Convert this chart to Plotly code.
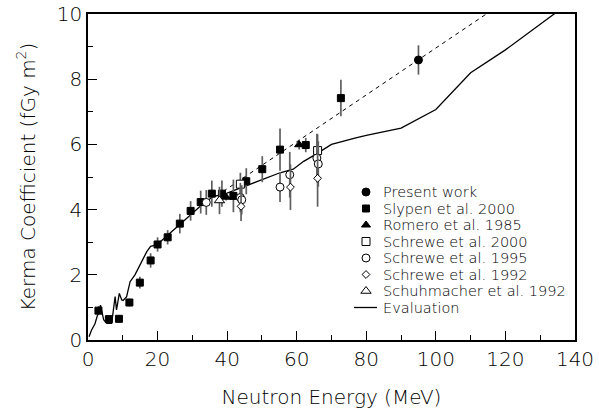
import plotly.graph_objects as go

# ---- data: neutron kerma coefficients (fGy m^2) vs neutron energy (MeV) ----
present_E = [95.0]
present_K = [8.59]
present_err = [0.45]

slypen_E = [3.0, 6.0, 8.9, 11.9, 14.9, 18.0, 20.0, 22.9, 26.4, 29.5, 32.4,
            35.6, 38.5, 41.8, 45.5, 50.1, 55.2, 62.6, 72.7]
slypen_K = [0.90, 0.64, 0.65, 1.15, 1.76, 2.44, 2.93, 3.15, 3.57, 3.96, 4.23,
            4.49, 4.49, 4.42, 4.87, 5.24, 5.84, 5.98, 7.42]
slypen_err = [0.14, 0.12, 0.12, 0.12, 0.18, 0.22, 0.22, 0.22, 0.3, 0.3, 0.35,
              0.4, 0.4, 0.5, 0.4, 0.4, 0.65, 0.22, 0.56]

romero_E = [39.7, 60.7]
romero_K = [4.38, 5.99]
romero_err = [0.1, 0.15]

schrewe2000_E = [43.8, 66.0]
schrewe2000_K = [4.78, 5.81]
schrewe2000_err = [0.35, 0.5]

schrewe1995_E = [34.0, 43.8, 44.2, 55.2, 58.0, 65.8, 66.2]
schrewe1995_K = [4.22, 4.37, 4.30, 4.69, 5.07, 5.58, 5.40]
schrewe1995_err = [0.38, 0.45, 0.45, 0.46, 0.7, 0.75, 0.7]

schrewe1992_E = [44.0, 58.2, 66.0]
schrewe1992_K = [4.10, 4.69, 4.96]
schrewe1992_err = [0.45, 0.7, 0.87]

schuhmacher_E = [37.8]
schuhmacher_K = [4.28]
schuhmacher_err = [0.42]

# linear trend through the high-energy measurements
fit_E = [38.9, 114.5]
fit_K = [4.56, 10.0]

# evaluated kerma coefficient
eval_E = [0.3, 1.0, 2.0, 2.6, 3.2, 3.6, 4.5, 5.4, 6.8, 7.3, 7.8, 8.2, 9.0, 9.7,
          10.1, 11.1, 12.1, 13.5, 14.9, 16.9, 18.0, 19.7, 21.2, 23.6, 26.4,
          29.5, 33.0, 36.0, 39.8, 43.7, 49.9, 55.2, 59.0, 62.0, 65.2, 70.0,
          77.0, 80.0, 90.0, 100.0, 110.0, 120.0, 134.0, 140.0]
eval_K = [0.1, 0.3, 0.5, 0.7, 0.95, 1.07, 0.62, 0.51, 0.51, 1.02, 1.33, 0.92,
          1.43, 1.23, 1.21, 1.33, 1.79, 2.0, 2.3, 2.71, 2.87, 2.92, 3.05, 3.28,
          3.52, 3.82, 4.17, 4.40, 4.5, 4.66, 4.92, 5.13, 5.24, 5.48, 5.68, 6.0,
          6.2, 6.28, 6.5, 7.07, 8.2, 8.9, 10.0, 10.45]

x_ticks = [0, 20, 40, 60, 80, 100, 120, 140]
y_ticks = [0, 2, 4, 6, 8, 10]

FONT = "DejaVu Sans"
WEIGHT = 200
ERR_COLOR = "rgb(95,95,95)"

fig = go.Figure()

fig.add_trace(go.Scatter(x=eval_E, y=eval_K, mode="lines",
                         line=dict(color="black", width=1.3), showlegend=False))
fig.add_trace(go.Scatter(x=fit_E, y=fit_K, mode="lines",
                         line=dict(color="black", width=1, dash="4px,4px"),
                         showlegend=False))

series = [
    ("Present work", present_E, present_K, present_err, "circle", "black", 8),
    ("Slypen et al. 2000", slypen_E, slypen_K, slypen_err, "square", "black", 7),
    ("Romero et al. 1985", romero_E, romero_K, romero_err, "triangle-up", "black", 8),
    ("Schrewe et al. 2000", schrewe2000_E, schrewe2000_K, schrewe2000_err, "square", "white", 8),
    ("Schrewe et al. 1995", schrewe1995_E, schrewe1995_K, schrewe1995_err, "circle", "white", 8),
    ("Schrewe et al. 1992", schrewe1992_E, schrewe1992_K, schrewe1992_err, "diamond", "white", 6),
    ("Schuhmacher et al. 1992", schuhmacher_E, schuhmacher_K, schuhmacher_err, "triangle-up", "white", 9),
]

for name, xs, ys, es, sym, fill, size in series:
    fig.add_trace(go.Scatter(
        x=xs, y=ys, mode="markers", name=name, showlegend=False,
        marker=dict(symbol=sym, color=fill, size=size,
                    line=dict(color="black", width=1)),
        error_y=dict(type="data", array=es, visible=True, width=0,
                     thickness=1.7, color=ERR_COLOR),
    ))

# ---- hand-built key drawn on a pixel-scaled overlay axis ----
key_rows = [192, 208.5, 225, 241.5, 258, 274.5, 291, 307.5]
key_marker_x = 366
key_text_x = 381
key_font = dict(family=FONT, size=14.5, color="black", weight=WEIGHT)
annotations = []
for (name, _, _, _, sym, fill, size), ky in zip(series, key_rows):
    fig.add_trace(go.Scatter(
        x=[key_marker_x], y=[ky], xaxis="x2", yaxis="y2", mode="markers",
        showlegend=False, hoverinfo="skip",
        marker=dict(symbol=sym, color=fill, size=size,
                    line=dict(color="black", width=1))))
    annotations.append(dict(x=key_text_x, y=ky, xref="x2", yref="y2",
                            text=name, showarrow=False, xanchor="left",
                            yanchor="middle", font=key_font))
fig.add_trace(go.Scatter(
    x=[354, 377], y=[key_rows[-1]] * 2, xaxis="x2", yaxis="y2", mode="lines",
    showlegend=False, hoverinfo="skip", line=dict(color="black", width=1.3)))
annotations.append(dict(x=key_text_x, y=key_rows[-1], xref="x2", yref="y2",
                        text="Evaluation", showarrow=False, xanchor="left",
                        yanchor="middle", font=key_font))

axis_common = dict(
    showline=True, linecolor="black", linewidth=1.5, mirror=True,
    ticks="inside", tickcolor="black", tickwidth=1.3, ticklen=9,
    showgrid=False, zeroline=False, automargin=False,
    tickfont=dict(family=FONT, size=20, color="black", weight=WEIGHT),
)
title_font = dict(family=FONT, size=20, color="black", weight=WEIGHT)

fig.update_layout(
    width=599, height=414,
    margin=dict(l=88, r=24, t=14, b=74),
    paper_bgcolor="white", plot_bgcolor="white",
    showlegend=False,
    xaxis=dict(range=[0, 140], tickvals=x_ticks,
               minor=dict(dtick=10, ticks="inside", ticklen=5,
                          tickcolor="black", tickwidth=1.3),
               title=dict(text="Neutron Energy (MeV)", standoff=20,
                          font=title_font),
               **axis_common),
    yaxis=dict(range=[0, 10], tickvals=y_ticks,
               minor=dict(dtick=1, ticks="inside", ticklen=5,
                          tickcolor="black", tickwidth=1.3),
               title=dict(text="Kerma Coefficient (fGy m<sup>2</sup>)",
                          standoff=16, font=title_font),
               **axis_common),
    xaxis2=dict(overlaying="x", range=[88, 575], visible=False),
    yaxis2=dict(overlaying="y", range=[340, 14], visible=False),
    annotations=annotations,
)

fig.write_html("out.html")
